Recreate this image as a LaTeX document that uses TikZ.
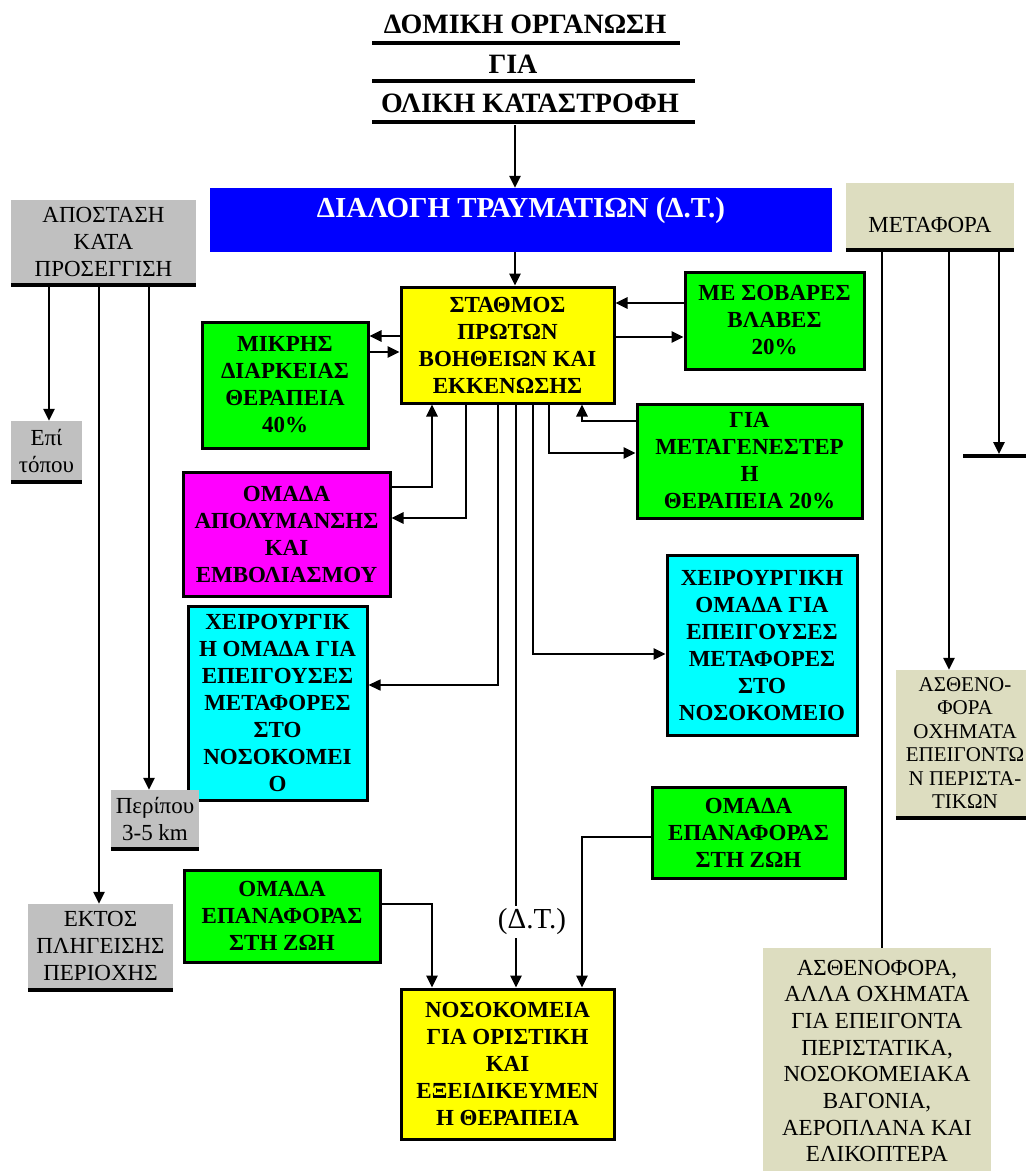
\documentclass[tikz,border=0pt]{standalone}
\usepackage{fontspec}
\setmainfont{Liberation Serif}
\usetikzlibrary{arrows.meta,calc}
\definecolor{cgray}{RGB}{192,192,192}
\definecolor{cbeige}{RGB}{221,221,192}
\definecolor{cblue}{RGB}{0,0,255}
\definecolor{cgreen}{RGB}{0,255,0}
\definecolor{cyellow}{RGB}{255,255,0}
\definecolor{cmag}{RGB}{255,0,255}
\definecolor{ccyan}{RGB}{0,255,255}
\begin{document}
\begin{tikzpicture}[x=1pt,y=-1pt,
  cbox/.style={draw=black,line width=3pt,inner sep=0pt,align=center,font=\fontsize{23}{27}\selectfont\bfseries},
  gbox/.style={fill=cgray,inner sep=0pt,align=center,font=\fontsize{23}{27}\selectfont},
  bbox/.style={fill=cbeige,inner sep=0pt,align=center,font=\fontsize{23}{26.7}\selectfont},
  ttl/.style={anchor=base,inner sep=0pt,font=\fontsize{28}{32}\selectfont\bfseries},
  bar/.style={line width=3.5pt},
  arr/.style={line width=2.6pt,-{Triangle[length=12pt,width=11pt]}},
  thinarr/.style={line width=1.6pt,-{Triangle[length=12pt,width=11pt]}},
  ln/.style={line width=1.6pt},
]
\fill[white] (0,0) rectangle (1026,1171);
\useasboundingbox (0,0) rectangle (1026,1171);

% title
\node[ttl] (t1) at (525,33) {ΔΟΜΙΚΗ ΟΡΓΑΝΩΣΗ};
\node[ttl] (t2) at (513,73) {ΓΙΑ};
\node[ttl] (t3) at (530,112) {ΟΛΙΚΗ ΚΑΤΑΣΤΡΟΦΗ};
\draw[line width=3.5pt] (372,43) -- (680,43);
\draw[line width=3.5pt] (372,81) -- (695,81);
\draw[line width=3.5pt] (372,122) -- (695,122);

% blue
\node[fill=cblue,inner sep=0pt,minimum width=622,minimum height=64,text=white,
      font=\fontsize{29}{32}\selectfont\bfseries,text height=20pt,text depth=26pt] (blue) at (521,220) {ΔΙΑΛΟΓΗ ΤΡΑΥΜΑΤΙΩΝ (Δ.Τ.)};

% coloured boxes
\node[cbox,fill=cyellow,minimum width=213,minimum height=116] (st) at (507.5,345) {ΣΤΑΘΜΟΣ\\ΠΡΩΤΩΝ\\ΒΟΗΘΕΙΩΝ ΚΑΙ\\ΕΚΚΕΝΩΣΗΣ};
\node[cbox,fill=cgreen,minimum width=166,minimum height=126] (mik) at (285,385) {ΜΙΚΡΗΣ\\ΔΙΑΡΚΕΙΑΣ\\ΘΕΡΑΠΕΙΑ\\40\%};
\node[cbox,fill=cgreen,minimum width=179,minimum height=97] (sob) at (774.5,320.5) {ΜΕ ΣΟΒΑΡΕΣ\\ΒΛΑΒΕΣ\\20\%};
\node[cbox,fill=cgreen,minimum width=225,minimum height=114] (met) at (749.5,461) {ΓΙΑ\\ΜΕΤΑΓΕΝΕΣΤΕΡ\\Η\\ΘΕΡΑΠΕΙΑ 20\%};
\node[cbox,fill=cmag,minimum width=207,minimum height=124] (mag) at (286.5,534) {ΟΜΑΔΑ\\ΑΠΟΛΥΜΑΝΣΗΣ\\ΚΑΙ\\ΕΜΒΟΛΙΑΣΜΟΥ};
\node[cbox,fill=ccyan,minimum width=179,minimum height=194] (cyl) at (277.5,703) {ΧΕΙΡΟΥΡΓΙΚ\\Η ΟΜΑΔΑ ΓΙΑ\\ΕΠΕΙΓΟΥΣΕΣ\\ΜΕΤΑΦΟΡΕΣ\\ΣΤΟ\\ΝΟΣΟΚΟΜΕΙ\\Ο};
\node[cbox,fill=ccyan,minimum width=190,minimum height=180] (cyr) at (762,645) {ΧΕΙΡΟΥΡΓΙΚΗ\\ΟΜΑΔΑ ΓΙΑ\\ΕΠΕΙΓΟΥΣΕΣ\\ΜΕΤΑΦΟΡΕΣ\\ΣΤΟ\\ΝΟΣΟΚΟΜΕΙΟ};
\node[cbox,fill=cgreen,minimum width=193,minimum height=91] (g4) at (748.5,832.5) {ΟΜΑΔΑ\\ΕΠΑΝΑΦΟΡΑΣ\\ΣΤΗ ΖΩΗ};
\node[cbox,fill=cgreen,minimum width=196,minimum height=92] (g3) at (282,916) {ΟΜΑΔΑ\\ΕΠΑΝΑΦΟΡΑΣ\\ΣΤΗ ΖΩΗ};
\node[cbox,fill=cyellow,minimum width=213,minimum height=150] (hosp) at (507.5,1064) {ΝΟΣΟΚΟΜΕΙΑ\\ΓΙΑ ΟΡΙΣΤΙΚΗ\\ΚΑΙ\\ΕΞΕΙΔΙΚΕΥΜΕΝ\\Η ΘΕΡΑΠΕΙΑ};

% grey boxes
\node[gbox,minimum width=185,minimum height=83] (ap) at (103.5,241.5) {ΑΠΟΣΤΑΣΗ\\ΚΑΤΑ\\ΠΡΟΣΕΓΓΙΣΗ};
\node[gbox,minimum width=71,minimum height=59] (epi) at (46.5,450.5) {Επί\\τόπου};
\node[gbox,minimum width=88,minimum height=57] (per) at (155,818.5) {Περίπου\\3-5 km};
\node[gbox,minimum width=145,minimum height=84] (ekt) at (100.5,946) {ΕΚΤΟΣ\\ΠΛΗΓΕΙΣΗΣ\\ΠΕΡΙΟΧΗΣ};
\foreach \n in {ap,epi,per,ekt}
  \draw[bar] ([yshift=-1.7pt]\n.south west) -- ([yshift=-1.7pt]\n.south east);

% beige boxes
\node[bbox,minimum width=168,minimum height=65,text height=33pt,text depth=0pt] (meta) at (930,215.5) {ΜΕΤΑΦΟΡΑ};
\node[bbox,font=\fontsize{21}{23.5}\selectfont,minimum width=138,minimum height=146] (asth) at (965,743) {ΑΣΘΕΝΟ-\\ΦΟΡΑ\\ΟΧΗΜΑΤΑ\\ΕΠΕΙΓΟΝΤΩ\\Ν ΠΕΡΙΣΤΑ-\\ΤΙΚΩΝ};
\node[bbox,minimum width=228,minimum height=226] (bot) at (877,1061) {ΑΣΘΕΝΟΦΟΡΑ,\\ΑΛΛΑ ΟΧΗΜΑΤΑ\\ΓΙΑ ΕΠΕΙΓΟΝΤΑ\\ΠΕΡΙΣΤΑΤΙΚΑ,\\ΝΟΣΟΚΟΜΕΙΑΚΑ\\ΒΑΓΟΝΙΑ,\\ΑΕΡΟΠΛΑΝΑ ΚΑΙ\\ΕΛΙΚΟΠΤΕΡΑ};
\foreach \n in {meta,asth}
  \draw[bar] ([yshift=-1.7pt]\n.south west) -- ([yshift=-1.7pt]\n.south east);

% label
\node[inner xsep=0pt,inner ysep=3pt,fill=white,font=\fontsize{29}{32}\selectfont] (lab) at (532,922) {(Δ.Τ.)};

% helper coordinates
\coordinate (x515) at (515,0);
\coordinate (tb) at (515,125);
\coordinate (gx1) at (49,0);
\coordinate (gx2) at (99,0);
\coordinate (gx3) at (149,0);
\coordinate (mx1) at (882,0);
\coordinate (mx2) at (949,0);
\coordinate (mx3) at (999,0);
\coordinate (barL) at (963,456);
\coordinate (barR) at (1030,456);
\coordinate (x432) at (432,0);
\coordinate (x466) at (466,0);
\coordinate (x498) at (498,0);
\coordinate (x516) at (516,0);
\coordinate (x533) at (533,0);
\coordinate (x549) at (549,0);
\coordinate (x582) at (582,0);
\coordinate (y303) at (0,303);
\coordinate (y336) at (0,336);
\coordinate (y337) at (0,337);
\coordinate (y352) at (0,352);
\coordinate (y421) at (0,421);
\coordinate (y453) at (0,453);
\coordinate (y487) at (0,487);
\coordinate (y518) at (0,518);
\coordinate (y654) at (0,654);
\coordinate (y685) at (0,685);
\coordinate (y837) at (0,837);
\coordinate (y904) at (0,904);

% connectors
\draw[arr] (tb) -- (blue.north -| tb);
\draw[arr] (blue.south -| x515) -- (st.north -| x515);

\draw[arr] (st.west |- y336) -- (mik.east |- y336);
\draw[arr] (mik.east |- y352) -- (st.west |- y352);
\draw[arr] (sob.west |- y303) -- (st.east |- y303);
\draw[arr] (st.east |- y337) -- (sob.west |- y337);

\draw[arr] (met.west |- y421) -| (st.south -| x582);
\draw[arr] (st.south -| x549) |- (met.west |- y453);
\draw[arr] (mag.east |- y487) -| (st.south -| x432);
\draw[arr] (st.south -| x466) |- (mag.east |- y518);
\draw[thinarr] (st.south -| x498) |- (cyl.east |- y685);
\draw[ln] (st.south -| x516) -- (lab.north -| x516);
\draw[arr] (lab.south -| x516) -- (hosp.north -| x516);
\draw[arr] (st.south -| x533) |- (cyr.west |- y654);
\draw[arr] (g3.east |- y904) -| (hosp.north -| x432);
\draw[arr] (g4.west |- y837) -| (hosp.north -| x582);

\draw[arr] (ap.south -| gx1) -- (epi.north -| gx1);
\draw[arr] (ap.south -| gx2) -- (ekt.north -| gx2);
\draw[arr] (ap.south -| gx3) -- (per.north -| gx3);

\draw[ln] (meta.south -| mx1) -- (bot.north -| mx1);
\draw[arr] (meta.south -| mx2) -- (asth.north -| mx2);
\draw[line width=4pt] (barL) -- (barR);
\draw[arr,shorten >=2pt] (meta.south -| mx3) -- (barL -| mx3);
\end{tikzpicture}
\end{document}
